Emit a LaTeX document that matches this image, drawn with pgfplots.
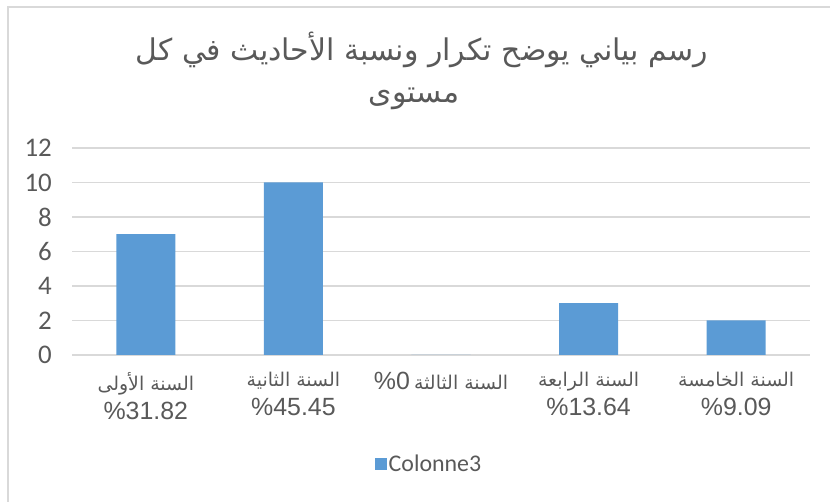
\documentclass[border=0pt]{standalone}
\usepackage{pgfplots}
\pgfplotsset{compat=1.18}
\usepackage{fontspec}
\setmainfont{Liberation Sans}
\newfontfamily\carlito{Carlito}
\newfontfamily\arabicfont[Script=Arabic]{DejaVu Sans}
\TeXXeTstate=1
\definecolor{barblue}{HTML}{5B9BD5}
\definecolor{gridgray}{HTML}{D9D9D9}
\definecolor{txt}{HTML}{595959}
\newcommand{\lab}{\fontsize{24}{28}\selectfont}
\newcommand{\arf}{\arabicfont\fontsize{19}{29}\selectfont}
\begin{document}
\begin{tikzpicture}[x=1bp,y=1bp]
\path[use as bounding box] (0,0) rectangle (830,502);
\draw[gridgray, line width=2bp] (8,0) -- (8,495) -- (830,495);
\node[text=txt, font=\arabicfont\fontsize{30}{36}\selectfont] at (422,452) {\beginR رسم بياني يوضح تكرار ونسبة الأحاديث في كل\endR};
\node[text=txt, font=\arabicfont\fontsize{30}{36}\selectfont] at (414,403) {\beginR مستوى\endR};
\begin{axis}[
  at={(72bp,147bp)}, anchor=south west,
  scale only axis, width=738bp, height=207bp,
  xmin=-0.5, xmax=4.5, ymin=0, ymax=12,
  ytick={0,2,...,12}, xtick={0,1,2,3,4},
  xticklabels={
    {{\arf\beginR السنة الأولى\endR}\\\%31.82},
    {{\arf\beginR السنة الثانية\endR}\\\%45.45},
    {\%0\,{\arf\beginR السنة الثالثة\endR}},
    {{\arf\beginR السنة الرابعة\endR}\\\%13.64},
    {{\arf\beginR السنة الخامسة\endR}\\\%9.09}},
  axis line style={draw=none},
  major tick length=0,
  ymajorgrids, grid style={gridgray, line width=1.3bp},
  /pgf/number format/assume math mode=true,
  yticklabel style={font=\carlito\fontsize{27}{30}\selectfont, text=txt, inner sep=0, xshift=-20bp},
  xticklabel style={font=\fontsize{25}{29}\selectfont, text=txt, inner sep=0, align=center, anchor=north, yshift=-17bp},
  ybar, bar width=0.4,
  legend style={at={(0.4837,-0.5266)}, anchor=center, draw=none, fill=none,
    font=\carlito\lab, text=txt, inner sep=0},
  legend image code/.code={\fill[barblue] (0bp,-6bp) rectangle (12bp,6bp);},
]
\addplot[fill=barblue, draw=none] coordinates {(0,7) (1,10) (2,0) (3,3) (4,2)};
\addlegendentry{Colonne3}
\end{axis}
\end{tikzpicture}
\end{document}
